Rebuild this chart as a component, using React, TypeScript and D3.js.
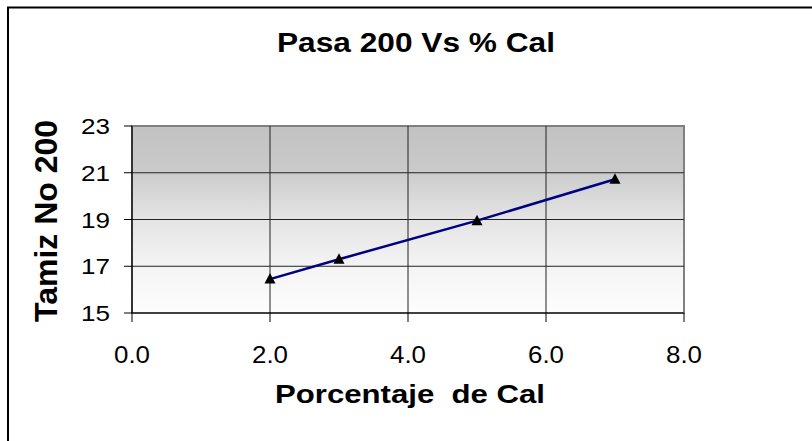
import React from "react";
import * as d3 from "d3";

const xValues = [2, 3, 5, 7];
const yValues = [16.45, 17.3, 18.95, 20.72];
const xTicks = [0, 2, 4, 6, 8];
const yTicks = [15, 17, 19, 21, 23];
const title = "Pasa 200 Vs % Cal";
const xTitle = "Porcentaje  de Cal";
const yTitle = "Tamiz No 200";

const W = 812;
const H = 441;
const plot = { left: 132, right: 684, top: 126, bottom: 313 };

export default function App() {
  const x = d3.scaleLinear().domain([0, 8]).range([plot.left, plot.right]);
  const y = d3.scaleLinear().domain([15, 23]).range([plot.bottom, plot.top]);
  const pts: [number, number][] = xValues.map((v, i) => [v, yValues[i]]);
  const line = d3
    .line<[number, number]>()
    .x((d) => x(d[0]))
    .y((d) => y(d[1]));
  const font = "Arial, 'Liberation Sans', sans-serif";
  const tri = (cx: number, cy: number) =>
    `M${cx},${cy - 6}L${cx + 5.5},${cy + 4.5}L${cx - 5.5},${cy + 4.5}Z`;

  return (
    <svg
      width={W}
      height={H}
      style={{ position: "absolute", left: 0, top: 0, background: "#fff" }}
      fontFamily={font}
    >
      <defs>
        <linearGradient id="bg" x1="0" y1="0" x2="0" y2="1">
          <stop offset="0" stopColor="#c2c2c2" />
          <stop offset="0.22" stopColor="#c9c9c9" />
          <stop offset="0.5" stopColor="#e4e4e4" />
          <stop offset="0.75" stopColor="#f4f4f4" />
          <stop offset="1" stopColor="#fdfdfd" />
        </linearGradient>
      </defs>
      <rect x={8} y={7.5} width={W + 20} height={H + 20} fill="none" stroke="#000" strokeWidth={2} />

      <rect
        x={plot.left}
        y={plot.top}
        width={plot.right - plot.left}
        height={plot.bottom - plot.top}
        fill="url(#bg)"
        stroke="#808080"
        strokeWidth={2}
      />
      {yTicks.slice(1, -1).map((t) => (
        <line key={"gy" + t} x1={plot.left} x2={plot.right} y1={y(t)} y2={y(t)} stroke="#222" strokeWidth={1} />
      ))}
      {xTicks.slice(1, -1).map((t) => (
        <line key={"gx" + t} x1={x(t)} x2={x(t)} y1={plot.top} y2={plot.bottom} stroke="#222" strokeWidth={1} />
      ))}
      <line x1={plot.left} x2={plot.left} y1={plot.top} y2={plot.bottom} stroke="#000" strokeWidth={1.2} />
      <line x1={plot.left} x2={plot.right} y1={plot.bottom} y2={plot.bottom} stroke="#000" strokeWidth={1.2} />
      {yTicks.map((t) => (
        <g key={"ty" + t}>
          <line x1={plot.left - 8} x2={plot.left} y1={y(t)} y2={y(t)} stroke="#000" />
          <text
            x={110}
            y={y(t) + 8}
            textAnchor="end"
            fontSize={22}
            textLength={29}
            lengthAdjust="spacingAndGlyphs"
          >
            {String(t)}
          </text>
        </g>
      ))}
      {xTicks.map((t) => (
        <g key={"tx" + t}>
          <line x1={x(t)} x2={x(t)} y1={plot.bottom} y2={plot.bottom + 9} stroke="#000" />
          <text
            x={x(t)}
            y={363}
            textAnchor="middle"
            fontSize={23}
            textLength={36}
            lengthAdjust="spacingAndGlyphs"
          >
            {t.toFixed(1)}
          </text>
        </g>
      ))}
      <path d={line(pts) || ""} fill="none" stroke="#000080" strokeWidth={2.5} />
      {pts.map((p, i) => (
        <path key={"m" + i} d={tri(x(p[0]), y(p[1]))} fill="#000" />
      ))}
      <text
        x={416}
        y={52}
        textAnchor="middle"
        fontSize={27}
        fontWeight="bold"
        textLength={278}
        lengthAdjust="spacingAndGlyphs"
      >
        {title}
      </text>
      <text
        x={410}
        y={403}
        textAnchor="middle"
        fontSize={26}
        fontWeight="bold"
        textLength={270}
        lengthAdjust="spacingAndGlyphs"
        style={{ whiteSpace: "pre" }}
      >
        {xTitle}
      </text>
      <text
        transform="translate(56.5,221) rotate(-90)"
        textAnchor="middle"
        fontSize={31.5}
        fontWeight="bold"
        textLength={202}
        lengthAdjust="spacingAndGlyphs"
      >
        {yTitle}
      </text>
    </svg>
  );
}
